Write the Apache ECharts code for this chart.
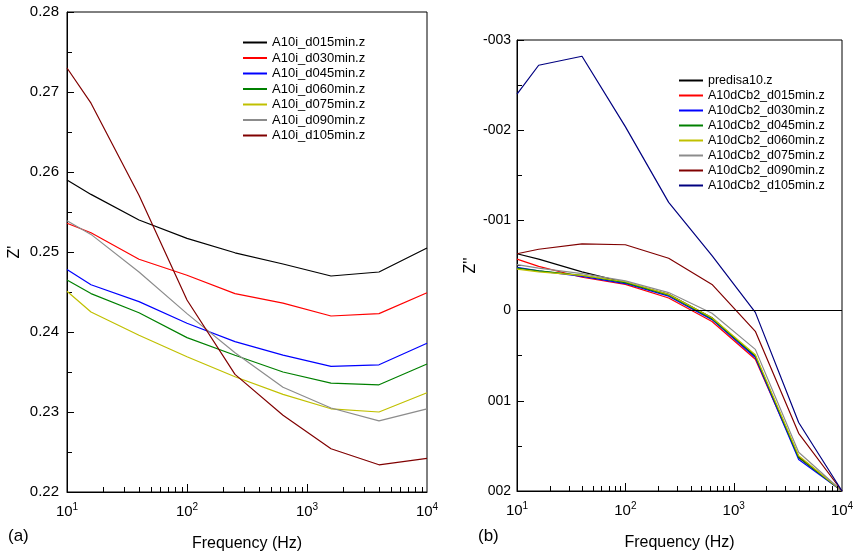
<!DOCTYPE html>
<html><head><meta charset="utf-8">
<script src="https://cdn.jsdelivr.net/npm/echarts@6/dist/echarts.min.js"></script>
<style>html,body{margin:0;padding:0;background:#fff}#c{width:857px;height:553px}</style>
</head><body><div id="c"></div>
<script>
// ---- data ----
const freqs = [10, 15.85, 39.81, 100, 251.2, 631, 1585, 3981, 10000];

const leftNames = ['A10i_d015min.z','A10i_d030min.z','A10i_d045min.z','A10i_d060min.z','A10i_d075min.z','A10i_d090min.z','A10i_d105min.z'];
const leftColors = ['#000000','#ff0000','#0000ff','#008000','#c0c000','#8c8c8c','#800000'];
const a_d015 = [0.2590, 0.2572, 0.2540, 0.2517, 0.2499, 0.2485, 0.2470, 0.2475, 0.2505];
const a_d030 = [0.2536, 0.2524, 0.2491, 0.2471, 0.2448, 0.2436, 0.2420, 0.2423, 0.2449];
const a_d045 = [0.2478, 0.2459, 0.2438, 0.2411, 0.2388, 0.2371, 0.2357, 0.2359, 0.2386];
const a_d060 = [0.2465, 0.2448, 0.2424, 0.2393, 0.2371, 0.2350, 0.2336, 0.2334, 0.2360];
const a_d075 = [0.2451, 0.2425, 0.2396, 0.2369, 0.2344, 0.2322, 0.2304, 0.2300, 0.2324];
const a_d090 = [0.2539, 0.2522, 0.2475, 0.2423, 0.2374, 0.2331, 0.2305, 0.2289, 0.2304];
const a_d105 = [0.2730, 0.2686, 0.2571, 0.2440, 0.2347, 0.2296, 0.2254, 0.2234, 0.2242];
const leftSeries = [a_d015, a_d030, a_d045, a_d060, a_d075, a_d090, a_d105];

const rightNames = ['predisa10.z','A10dCb2_d015min.z','A10dCb2_d030min.z','A10dCb2_d045min.z','A10dCb2_d060min.z','A10dCb2_d075min.z','A10dCb2_d090min.z','A10dCb2_d105min.z'];
const rightColors = ['#000000','#ff0000','#0000ff','#008000','#c0c000','#8c8c8c','#800000','#000080'];
const b_pre  = [-0.0063, -0.0057, -0.0043, -0.0031, -0.0018, 0.0008, 0.0051, 0.0162, 0.0200];
const b_d015 = [-0.0057, -0.0049, -0.0037, -0.0029, -0.0014, 0.0012, 0.0054, 0.0163, 0.0200];
const b_d030 = [-0.0048, -0.0044, -0.0038, -0.0030, -0.0016, 0.0010, 0.0052, 0.0165, 0.0200];
const b_d045 = [-0.0047, -0.0044, -0.0039, -0.0031, -0.0017, 0.0009, 0.0050, 0.0163, 0.0200];
const b_d060 = [-0.0046, -0.0043, -0.0039, -0.0032, -0.0018, 0.0008, 0.0049, 0.0161, 0.0200];
const b_d075 = [-0.0051, -0.0047, -0.0041, -0.0033, -0.0020, 0.0003, 0.0043, 0.0157, 0.0200];
const b_d090 = [-0.0063, -0.0068, -0.0074, -0.0073, -0.0058, -0.0029, 0.0023, 0.0136, 0.0200];
const b_d105 = [-0.0240, -0.0272, -0.0282, -0.0204, -0.0120, -0.0061, 0.0002, 0.0124, 0.0200];
const rightSeries = [b_pre, b_d015, b_d030, b_d045, b_d060, b_d075, b_d090, b_d105];

const leftYTicks = ['0.22','0.23','0.24','0.25','0.26','0.27','0.28'];
const rightYTicks = ['-003','-002','-001','0','001','002'];
const xTickExps = ['1','2','3','4'];

// ---- chart ----
const FONT = 'Liberation Sans, Arial, sans-serif';
const xTicks = [];
for (let e = 1; e < 4; e++) for (let m = 1; m <= 9; m++) xTicks.push([m * Math.pow(10, e), m === 1 ? 8 : 5]);

function xAxisDef(gi) {
  return {
    type: 'log', logBase: 10, min: 10, max: 10000, gridIndex: gi, position: 'bottom',
    name: 'Frequency (Hz)', nameLocation: 'middle', nameGap: 44,
    nameTextStyle: { fontFamily: FONT, fontSize: 16, color: '#000' },
    axisLine: { onZero: false, lineStyle: { color: '#000', width: 1 } },
    axisTick: { show: false },
    splitLine: { show: false },
    axisLabel: {
      margin: 10, color: '#000',
      formatter: v => '{b|10}{s|' + xTickExps[Math.round(Math.log10(v)) - 1] + '}',
      rich: {
        b: { fontFamily: FONT, fontSize: 15, lineHeight: 20, color: '#000' },
        s: { fontFamily: FONT, fontSize: 10, lineHeight: 10, verticalAlign: 'top', color: '#000' }
      }
    }
  };
}

const series = [];
leftSeries.forEach((arr, i) => {
  series.push({
    name: leftNames[i], type: 'line', xAxisIndex: 0, yAxisIndex: 0,
    data: freqs.map((f, k) => [f, arr[k]]), symbol: 'none', smooth: false,
    lineStyle: { color: leftColors[i], width: 1.2 }, itemStyle: { color: leftColors[i] }
  });
});
rightSeries.forEach((arr, i) => {
  const s = {
    name: rightNames[i], type: 'line', xAxisIndex: 1, yAxisIndex: 1,
    data: freqs.map((f, k) => [f, arr[k]]), symbol: 'none',
    lineStyle: { color: rightColors[i], width: 1.2 }, itemStyle: { color: rightColors[i] }
  };
  if (i === 0) {
    s.markLine = { silent: true, symbol: 'none', label: { show: false },
      lineStyle: { color: '#000', width: 1, type: 'solid' }, data: [{ yAxis: 0 }] };
  }
  series.push(s);
});

const option = {
  animation: false,
  backgroundColor: '#fff',
  grid: [
    { left: 67, top: 12, width: 360, height: 480, outerBoundsMode: 'none', containLabel: false, show: true, borderColor: '#000', borderWidth: 1, backgroundColor: 'transparent' },
    { left: 517, top: 40, width: 325, height: 451, outerBoundsMode: 'none', containLabel: false, show: true, borderColor: '#000', borderWidth: 1, backgroundColor: 'transparent' }
  ],
  xAxis: [xAxisDef(0), xAxisDef(1)],
  yAxis: [
    {
      type: 'value', gridIndex: 0, min: 0.22, max: 0.28, interval: 0.01,
      name: "Z'", nameLocation: 'middle', nameGap: 44, nameRotate: 90,
      nameTextStyle: { fontFamily: FONT, fontSize: 16, color: '#000' },
      axisLine: { onZero: false, lineStyle: { color: '#000' } },
      axisTick: { inside: true, length: 7, lineStyle: { color: '#000' } },
      minorTick: { show: true, splitNumber: 2, length: 5, lineStyle: { color: '#000' } },
      splitLine: { show: false },
      axisLabel: { fontFamily: FONT, fontSize: 15, color: '#000', margin: 8,
        formatter: v => leftYTicks[Math.round(v * 100) - 22] }
    },
    {
      type: 'value', gridIndex: 1, min: -0.03, max: 0.02, interval: 0.01, inverse: true,
      name: "Z''", nameLocation: 'middle', nameGap: 32, nameRotate: 90,
      nameTextStyle: { fontFamily: FONT, fontSize: 16, color: '#000' },
      axisLine: { onZero: false, lineStyle: { color: '#000' } },
      axisTick: { inside: true, length: 7, lineStyle: { color: '#000' } },
      minorTick: { show: true, splitNumber: 2, length: 5, lineStyle: { color: '#000' } },
      splitLine: { show: false },
      axisLabel: { fontFamily: FONT, fontSize: 14, color: '#000', margin: 6,
        formatter: v => rightYTicks[Math.round(v * 100) + 3] }
    }
  ],
  legend: [
    { data: leftNames, orient: 'vertical', left: 238, top: 31, icon: 'rect', itemWidth: 24, itemHeight: 2, itemGap: 2.5,
      textStyle: { fontFamily: FONT, fontSize: 13, color: '#000' }, selectedMode: false },
    { data: rightNames, orient: 'vertical', left: 674, top: 69, icon: 'rect', itemWidth: 24, itemHeight: 2, itemGap: 2,
      textStyle: { fontFamily: FONT, fontSize: 12.5, color: '#000' }, selectedMode: false }
  ],
  series: series
};

const chart = echarts.init(document.getElementById('c'), null, { renderer: 'canvas' });
chart.setOption(option);

// x-axis log ticks (major + minor), positioned through the axes' own scales
const graphics = [
  { type: 'text', left: 8, top: 528, style: { text: '(a)', font: '17px ' + FONT, fill: '#000' } },
  { type: 'text', left: 478, top: 528, style: { text: '(b)', font: '17px ' + FONT, fill: '#000' } }
];
[[0, 0.22], [1, 0.02]].forEach(([gi, bottomVal]) => {
  const yb = Math.round(chart.convertToPixel({ yAxisIndex: gi }, bottomVal));
  xTicks.forEach(([f, len]) => {
    const x = Math.round(chart.convertToPixel({ xAxisIndex: gi }, f)) + 0.5;
    graphics.push({ type: 'line', silent: true, z: 1000, zlevel: 1,
      shape: { x1: x, y1: yb, x2: x, y2: yb - len },
      style: { stroke: '#000', lineWidth: 1 } });
  });
});
chart.setOption({ graphic: graphics });
</script>
</body></html>
